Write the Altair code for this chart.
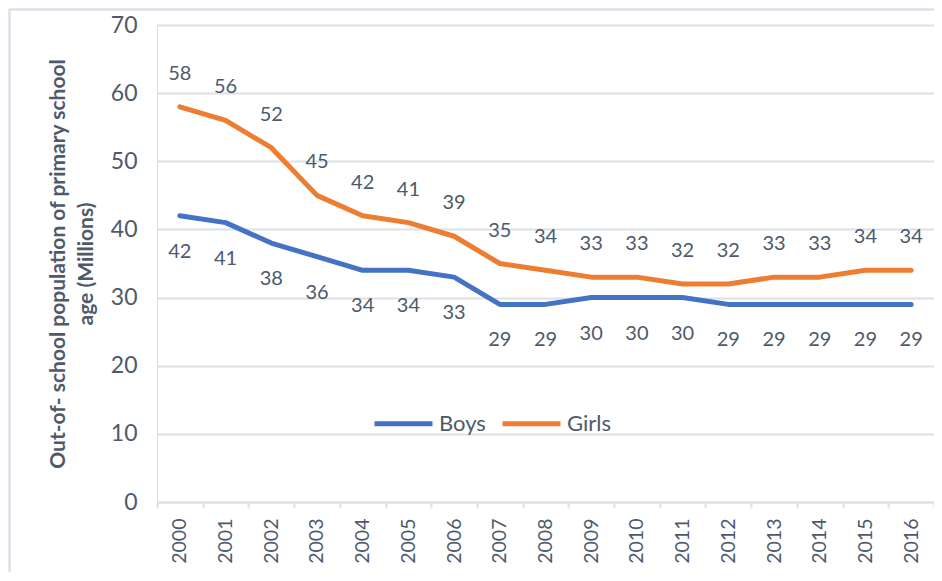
import altair as alt
import pandas as pd

years = [str(y) for y in range(2000, 2017)]
boys = [42, 41, 38, 36, 34, 34, 33, 29, 29, 30, 30, 30, 29, 29, 29, 29, 29]
girls = [58, 56, 52, 45, 42, 41, 39, 35, 34, 33, 33, 32, 32, 33, 33, 34, 34]
series = ["Boys", "Girls"]
colors = ["#4472C4", "#ED7D31"]
y_title = ["Out-of- school population of primary school", "age (Millions)"]

rows = []
for i, yr in enumerate(years):
    rows.append({"year": yr, "value": boys[i], "series": "Boys"})
    rows.append({"year": yr, "value": girls[i], "series": "Girls"})
df = pd.DataFrame(rows)

W, H = 777, 477
TXT = "#4D5A6B"
GRID = "#DCE1E8"
FONT = "Lato"

x_enc = alt.X(
    "year:O",
    scale=alt.Scale(type="band", paddingInner=0, paddingOuter=0),
    axis=alt.Axis(
        title=None, labelAngle=-90, labelFontSize=19.5, labelColor=TXT, labelFont=FONT,
        labelPadding=10, tickBand="extent", tickSize=6, tickColor=GRID, tickWidth=2,
        domainColor=GRID, domainWidth=2, grid=False,
    ),
)
y_enc = alt.Y(
    "value:Q",
    scale=alt.Scale(domain=[0, 70], nice=False),
    axis=alt.Axis(
        values=list(range(0, 71, 10)), title=y_title, titleFontSize=21, titleFont=FONT,
        titleFontWeight="bold", titleColor=TXT, titleLineHeight=28, titlePadding=14,
        labelFontSize=23, labelColor=TXT, labelFont=FONT, labelPadding=20,
        ticks=False, domain=False, gridColor=GRID, gridWidth=2,
    ),
)
color_enc = alt.Color(
    "series:N",
    scale=alt.Scale(domain=series, range=colors),
    legend=alt.Legend(
        title=None, orient="none", direction="horizontal", legendX=215, legendY=367,
        symbolType="stroke", symbolSize=3364, symbolStrokeWidth=5, labelFontSize=22,
        labelFont=FONT, labelColor=TXT, labelOffset=4, columnPadding=6, padding=0,
    ),
)

base = alt.Chart(df)
lines = base.mark_line(strokeWidth=5, strokeCap="round", strokeJoin="round").encode(
    x=x_enc, y=y_enc, color=color_enc
)
lab_g = base.transform_filter(alt.datum.series == "Girls").mark_text(
    dy=-33, fontSize=20, font=FONT, color=TXT
).encode(x=alt.X("year:O"), y=alt.Y("value:Q"), text="value:Q")
lab_b = base.transform_filter(alt.datum.series == "Boys").mark_text(
    dy=36, fontSize=20, font=FONT, color=TXT
).encode(x=alt.X("year:O"), y=alt.Y("value:Q"), text="value:Q")

border_left = alt.Chart(pd.DataFrame({"a": [0]})).mark_rule(color=GRID, strokeWidth=2.5).encode(
    x=alt.value(-147.5), y=alt.value(-16), y2=alt.value(H + 80)
)
border_top = alt.Chart(pd.DataFrame({"a": [0]})).mark_rule(color=GRID, strokeWidth=2.5).encode(
    x=alt.value(-148), x2=alt.value(W + 20), y=alt.value(-15.5)
)

chart = (
    alt.layer(border_left, border_top, lines, lab_g, lab_b)
    .properties(width=W, height=H, autosize=alt.AutoSizeParams(type="none"),
                padding={"left": 149, "top": 17, "right": 0, "bottom": 70})
    .configure_view(stroke=None)
    .configure(background="white")
)
chart.save("out.html", embed_options={"renderer": "svg", "actions": False})
